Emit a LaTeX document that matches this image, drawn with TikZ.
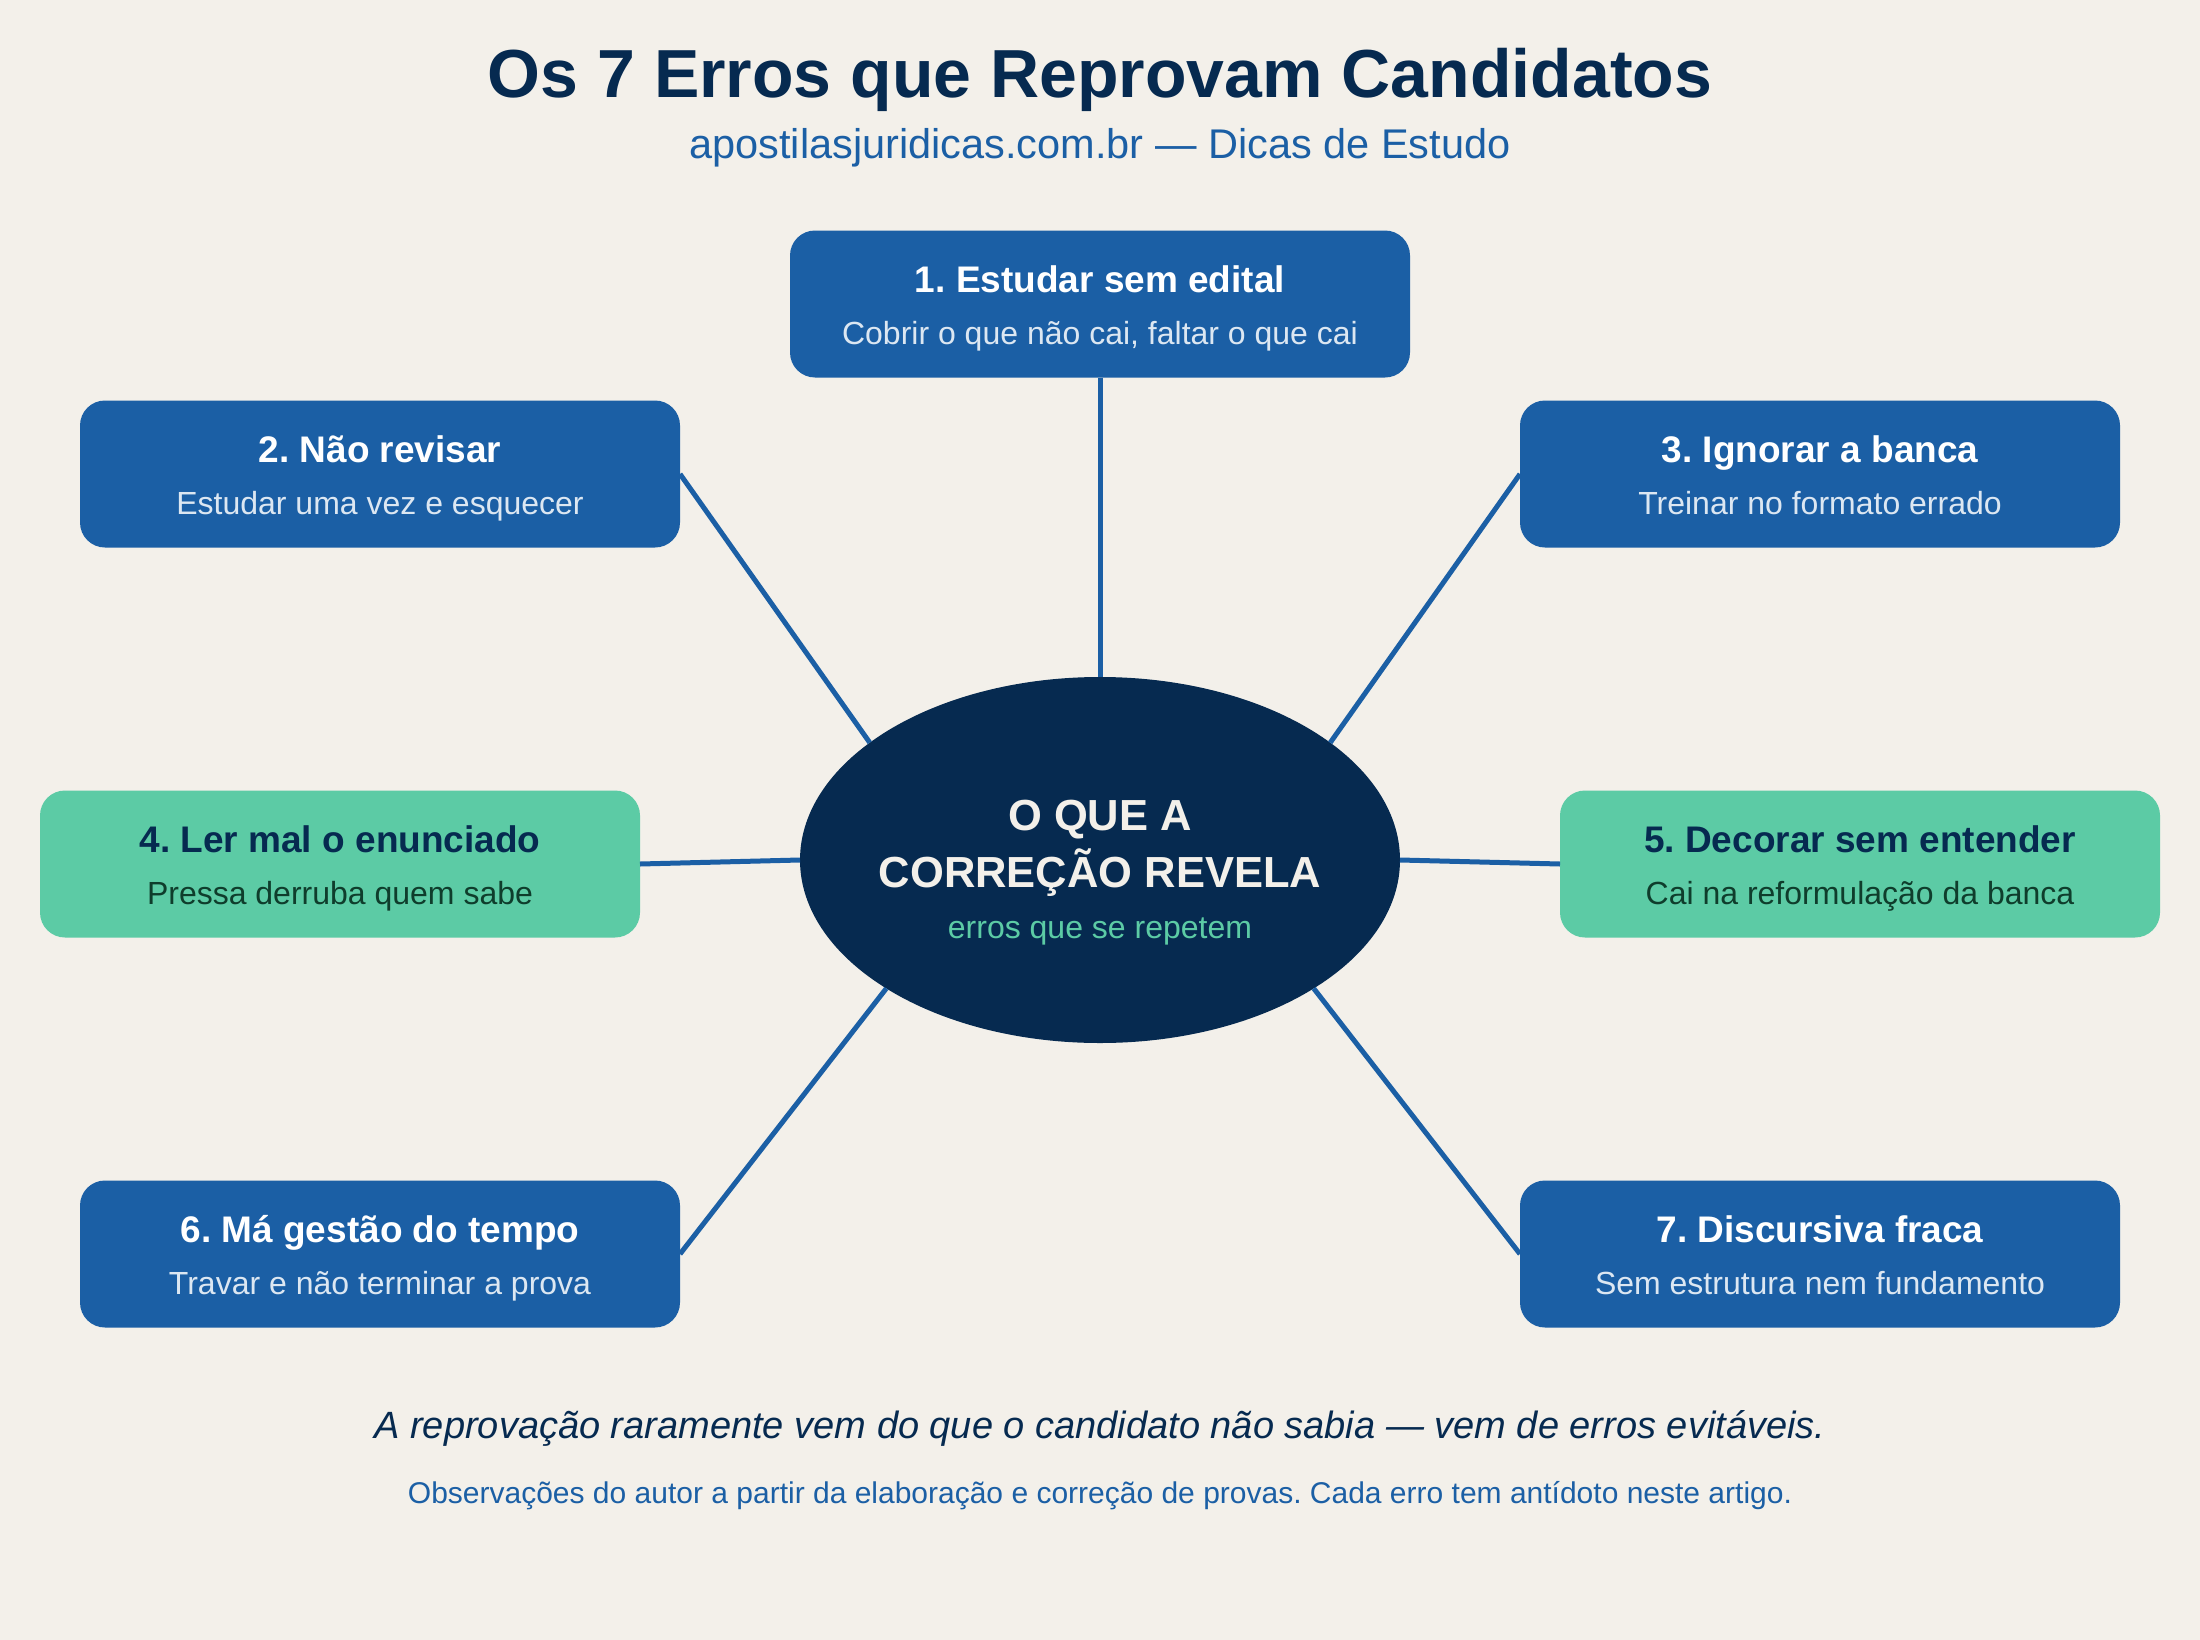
\documentclass[tikz,border=0pt]{standalone}
\usepackage{fontspec}
\setmainfont{Liberation Sans}
\usetikzlibrary{shapes.geometric,calc}
\definecolor{bgc}{HTML}{F3F0EA}
\definecolor{navy}{HTML}{062A50}
\definecolor{bluebox}{HTML}{1B5FA5}
\definecolor{greenbox}{HTML}{5CCBA5}
\definecolor{lightsub}{HTML}{DCE7F2}
\definecolor{darkgreen}{HTML}{0F3D2C}
\definecolor{linec}{HTML}{1B5FA5}
\newcommand{\fsz}[1]{\fontsize{#1}{#1}\selectfont}
\frenchspacing
\tikzset{
  errbox/.style={rectangle, rounded corners=25pt, minimum height=147pt, minimum width=600pt, inner sep=0pt, outer sep=0pt},
  bluestyle/.style={errbox, fill=bluebox},
  greenstyle/.style={errbox, fill=greenbox},
  btitle/.style={anchor=base, inner sep=0pt, font=\fsz{37}\bfseries},
  bsub/.style={anchor=base, inner sep=0pt, font=\fsz{32}},
  conn/.style={draw=linec, line width=5pt},
  txt/.style={anchor=base, inner sep=0pt}
}
\begin{document}
\begin{tikzpicture}[x=1pt,y=-1pt]
\fill[bgc] (0,0) rectangle (2200,1640);
\useasboundingbox (0,0) rectangle (2200,1640);

% title
\node[txt, text=navy, font=\fsz{68}\bfseries] (title) at (1100,98) {Os 7 Erros que Reprovam Candidatos};
\node[txt, text=bluebox, font=\fsz{41.5}] (subtitle) at (1100,159) {apostilasjuridicas.com.br — Dicas de Estudo};

% boxes
\node[bluestyle, minimum width=620pt] (b1) at (1100,304) {};
\node[bluestyle] (b2) at (380,474) {};
\node[bluestyle] (b3) at (1820,474) {};
\node[greenstyle] (b4) at (340,864) {};
\node[greenstyle] (b5) at (1860,864) {};
\node[bluestyle] (b6) at (380,1254) {};
\node[bluestyle] (b7) at (1820,1254) {};

% center
\node[ellipse, fill=navy, minimum width=600pt, minimum height=366pt, inner sep=0pt, outer sep=0pt] (c) at (1100,860) {};

% connectors
\draw[conn] (b1.south) -- (c.90);
\draw[conn] (b2.east) -- (c.153);
\draw[conn] (b3.west) -- (c.27);
\draw[conn] (b4.east) -- (c.180);
\draw[conn] (b5.west) -- (c.0);
\draw[conn] (b6.east) -- (c.211);
\draw[conn] (b7.west) -- (c.329);

% box texts
\node[btitle, text=white] (t1) at ($(b1.north)+(0,62)$) {1. Estudar sem edital};
\node[bsub, text=lightsub] (s1) at ($(b1.north)+(0,114)$) {Cobrir o que não cai, faltar o que cai};
\node[btitle, text=white] (t2) at ($(b2.north)+(0,62)$) {2. Não revisar};
\node[bsub, text=lightsub] (s2) at ($(b2.north)+(0,114)$) {Estudar uma vez e esquecer};
\node[btitle, text=white] (t3) at ($(b3.north)+(0,62)$) {3. Ignorar a banca};
\node[bsub, text=lightsub] (s3) at ($(b3.north)+(0,114)$) {Treinar no formato errado};
\node[btitle, text=navy] (t4) at ($(b4.north)+(0,62)$) {4. Ler mal o enunciado};
\node[bsub, text=darkgreen] (s4) at ($(b4.north)+(0,114)$) {Pressa derruba quem sabe};
\node[btitle, text=navy] (t5) at ($(b5.north)+(0,62)$) {5. Decorar sem entender};
\node[bsub, text=darkgreen] (s5) at ($(b5.north)+(0,114)$) {Cai na reformulação da banca};
\node[btitle, text=white] (t6) at ($(b6.north)+(0,62)$) {6. Má gestão do tempo};
\node[bsub, text=lightsub] (s6) at ($(b6.north)+(0,114)$) {Travar e não terminar a prova};
\node[btitle, text=white] (t7) at ($(b7.north)+(0,62)$) {7. Discursiva fraca};
\node[bsub, text=lightsub] (s7) at ($(b7.north)+(0,114)$) {Sem estrutura nem fundamento};

% center texts
\node[txt, text=bgc, font=\fsz{43.5}\bfseries] (c1) at (1100,830) {O QUE A};
\node[txt, text=bgc, font=\fsz{43.5}\bfseries] (c2) at (1100,887) {CORREÇÃO REVELA};
\node[txt, text=greenbox, font=\fsz{32}] (c3) at (1100,938) {erros que se repetem};

% footer
\node[txt, text=navy, font=\fsz{38}\itshape] (f1) at (1100,1438) {A reprovação raramente vem do que o candidato não sabia — vem de erros evitáveis.};
\node[txt, text=bluebox, font=\fsz{30}] (f2) at (1100,1503) {Observações do autor a partir da elaboração e correção de provas. Cada erro tem antídoto neste artigo.};
\end{tikzpicture}
\end{document}
